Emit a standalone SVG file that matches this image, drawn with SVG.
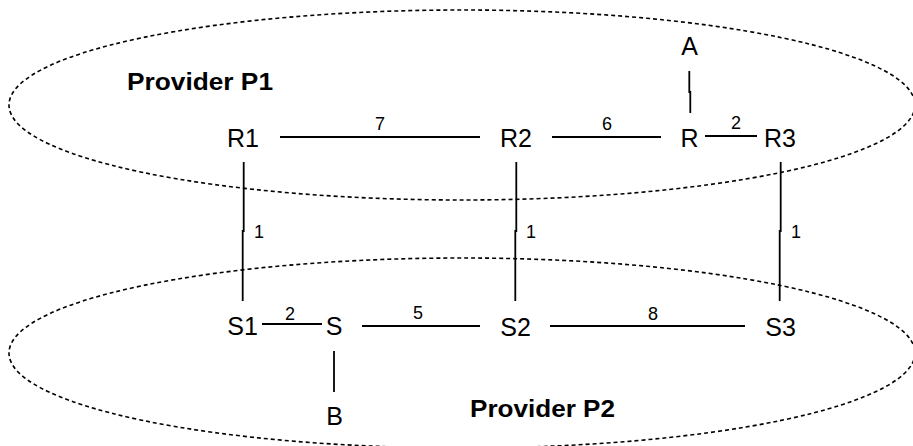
<svg xmlns="http://www.w3.org/2000/svg" width="913" height="446" viewBox="0 0 913 446">
<style>
.region{fill:none;stroke:#000;stroke-width:1.6;stroke-dasharray:4 3}
.edge{fill:none;stroke:#000;stroke-width:1.8}
.node{font-family:"Liberation Sans",Arial,sans-serif;font-size:25px;fill:#000;text-anchor:middle}
.lbl{font-family:"Liberation Sans",Arial,sans-serif;font-size:18px;fill:#000;text-anchor:middle}
.title{font-family:"Liberation Sans",Arial,sans-serif;font-size:24px;font-weight:bold;fill:#000}
</style>
<rect width="913" height="446" fill="#fff"/>
<g id="provider-p1">
<ellipse class="region" cx="462" cy="105" rx="453" ry="95"/>
<text class="title" x="127" y="90" textLength="146" lengthAdjust="spacingAndGlyphs">Provider P1</text>
</g>
<g id="provider-p2">
<ellipse class="region" cx="462" cy="353" rx="453" ry="95"/>
<text class="title" x="470" y="417" textLength="145" lengthAdjust="spacingAndGlyphs">Provider P2</text>
</g>
<g id="connectors">
<line class="edge" x1="280" y1="137" x2="480" y2="137"/>
<text class="lbl" x="380" y="130">7</text>
<line class="edge" x1="552" y1="137" x2="661" y2="137"/>
<text class="lbl" x="607" y="130">6</text>
<line class="edge" x1="705" y1="136" x2="757" y2="136"/>
<text class="lbl" x="736" y="129">2</text>
<polyline class="edge" points="689.3,71 689.3,92 690.3,92 690.3,113"/>
<polyline class="edge" points="243.7,162 243.7,231 242.7,231 242.7,301"/>
<text class="lbl" x="259" y="238">1</text>
<polyline class="edge" points="516.3,162 516.3,231 515.3,231 515.3,301"/>
<text class="lbl" x="531" y="238">1</text>
<polyline class="edge" points="780.7,162 780.7,231 779.7,231 779.7,301"/>
<text class="lbl" x="796" y="238">1</text>
<line class="edge" x1="262" y1="324" x2="322" y2="324"/>
<text class="lbl" x="290" y="320">2</text>
<line class="edge" x1="362" y1="326" x2="480" y2="326"/>
<text class="lbl" x="418" y="319">5</text>
<line class="edge" x1="550" y1="326" x2="745" y2="326"/>
<text class="lbl" x="653" y="320">8</text>
<line class="edge" x1="334" y1="351" x2="334" y2="392"/>
</g>
<g id="node-R1"><text class="node" x="243" y="147">R1</text></g>
<g id="node-R2"><text class="node" x="516" y="147">R2</text></g>
<g id="node-R"><text class="node" x="689.5" y="147">R</text></g>
<g id="node-R3"><text class="node" x="780" y="147">R3</text></g>
<g id="node-A"><text class="node" x="689.5" y="55">A</text></g>
<g id="node-S1"><text class="node" x="242.5" y="335">S1</text></g>
<g id="node-S"><text class="node" x="334" y="335">S</text></g>
<g id="node-S2"><text class="node" x="515.5" y="336">S2</text></g>
<g id="node-S3"><text class="node" x="780.5" y="336">S3</text></g>
<g id="node-B"><text class="node" x="334.5" y="425">B</text></g>
</svg>
